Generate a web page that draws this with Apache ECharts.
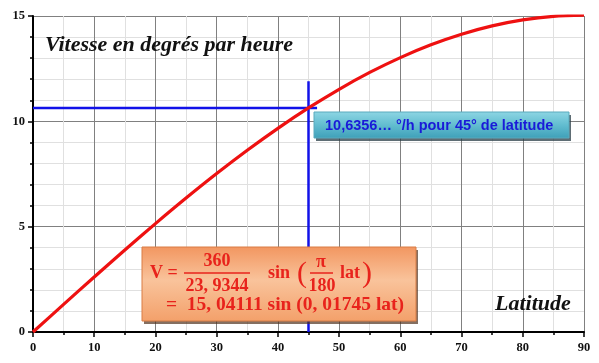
<!DOCTYPE html>
<html><head><meta charset="utf-8">
<script src="https://cdn.jsdelivr.net/npm/echarts@6/dist/echarts.min.js"></script>
<style>html,body{margin:0;padding:0;background:#fff}#c{width:599px;height:363px}</style>
</head><body><div id="c"></div>
<script>
var latitudes = [0,5,10,15,20,25,30,35,40,45,50,55,60,65,70,75,80,85,90];
var speeds = [0,1.311,2.612,3.893,5.144,6.357,7.521,8.627,9.668,10.636,11.522,12.321,13.026,13.632,14.134,14.529,14.813,14.984,15.041];
var hLineLat = [0, 46.4];
var hLineVal = 10.6356;
var vLineLat = 45;
var vLineVals = [0, 11.9];
var titleText = 'Vitesse en degrés par heure';
var xLabelText = 'Latitude';
var noteText = '10,6356… °/h pour 45° de latitude';

var chart = echarts.init(document.getElementById('c'), null, {renderer:'canvas'});
var red = '#e8231c';
var serifB = {fontFamily:'Liberation Serif', fontWeight:'bold', fill:red};
function t(x,y,s,size,align){return {type:'text',x:x,y:y,z:100,style:Object.assign({text:s,fontSize:size,textAlign:align||'left',textVerticalAlign:'middle'},serifB)};}
var blueGrad = new echarts.graphic.LinearGradient(0,0,0,1,[{offset:0,color:'#8ed6e4'},{offset:0.5,color:'#62bdd0'},{offset:1,color:'#3e9fb8'}]);
var orangeGrad = new echarts.graphic.LinearGradient(0,0,0,1,[{offset:0,color:'#f29660'},{offset:0.45,color:'#f9c39b'},{offset:1,color:'#f3a06a'}]);
var option = {
  animation:false,
  grid:{left:33,right:15,top:16,bottom:31},
  xAxis:{type:'value',min:0,max:90,interval:10,
    axisLine:{show:true,onZero:false,lineStyle:{color:'#000',width:2}},
    axisTick:{show:true,length:5,lineStyle:{color:'#000',width:1.5}},
    minorTick:{show:true,splitNumber:2,length:3,lineStyle:{color:'#000',width:1.5}},
    splitLine:{show:true,lineStyle:{color:'#808080',width:1}},
    minorSplitLine:{show:true,lineStyle:{color:'#e0e0e0',width:1}},
    axisLabel:{color:'#111',fontFamily:'Liberation Serif',fontWeight:'bold',fontSize:12.5,margin:9}},
  yAxis:{type:'value',min:0,max:15,interval:5,
    axisLine:{show:true,onZero:false,lineStyle:{color:'#000',width:2}},
    axisTick:{show:true,length:5,lineStyle:{color:'#000',width:1.5}},
    minorTick:{show:true,splitNumber:5,length:3,lineStyle:{color:'#000',width:1.5}},
    splitLine:{show:true,lineStyle:{color:'#808080',width:1}},
    minorSplitLine:{show:true,lineStyle:{color:'#e0e0e0',width:1}},
    axisLabel:{color:'#111',fontFamily:'Liberation Serif',fontWeight:'bold',fontSize:12.5,margin:8}},
  series:[
    {type:'line',data:hLineLat.map(function(x){return [x,hLineVal];}),symbol:'none',lineStyle:{color:'#1212e8',width:2.5},z:2},
    {type:'line',data:vLineVals.map(function(v){return [vLineLat,v];}),symbol:'none',lineStyle:{color:'#1212e8',width:2.5},z:2},
    {type:'line',data:latitudes.map(function(x,i){return [x,speeds[i]];}),symbol:'none',smooth:0.3,lineStyle:{color:'#ee1111',width:3.2},z:3}
  ],
  graphic:[
    {type:'text',x:45,y:45,z:100,style:{text:titleText,fontFamily:'Liberation Serif',fontStyle:'italic',fontWeight:'bold',fontSize:22,fill:'#111',textVerticalAlign:'middle'}},
    {type:'text',x:495,y:304,z:100,style:{text:xLabelText,fontFamily:'Liberation Serif',fontStyle:'italic',fontWeight:'bold',fontSize:22,fill:'#111',textVerticalAlign:'middle'}},
    {type:'rect',z:88,shape:{x:316,y:115,width:255,height:26},style:{fill:'rgba(40,60,70,0.75)'}},
    {type:'rect',z:90,shape:{x:314,y:112,width:255,height:26},style:{fill:blueGrad,stroke:'#5aaabd',lineWidth:1}},
    {type:'text',x:325,y:126,z:100,style:{text:noteText,fontFamily:'Liberation Sans',fontWeight:'bold',fontSize:14.5,fill:'#1a1ad8',textVerticalAlign:'middle'}},
    {type:'rect',z:88,shape:{x:144,y:250,width:274,height:74},style:{fill:'rgba(80,50,30,0.7)'}},
    {type:'rect',z:90,shape:{x:142,y:247,width:274,height:74},style:{fill:orangeGrad,stroke:'#d97d45',lineWidth:1}},
    t(150,273,'V =',18),
    t(217,261,'360',18,'center'),
    {type:'line',z:100,shape:{x1:184,y1:273,x2:250,y2:273},style:{stroke:red,lineWidth:1.5}},
    t(217,286,'23, 9344',18,'center'),
    t(268,273,'sin',18),
    {type:'text',x:297,y:274,z:100,style:Object.assign({text:'(',fontSize:30,textVerticalAlign:'middle'},serifB,{fontWeight:'normal'})},
    t(321,262,'π',18,'center'),
    {type:'line',z:100,shape:{x1:310,y1:273,x2:333,y2:273},style:{stroke:red,lineWidth:1.5}},
    t(322,286,'180',18,'center'),
    t(340,273,'lat',18),
    {type:'text',x:362,y:274,z:100,style:Object.assign({text:')',fontSize:30,textVerticalAlign:'middle'},serifB,{fontWeight:'normal'})},
    t(166,305,'=  15, 04111 sin (0, 01745 lat)',19.5)
  ]
};
chart.setOption(option);
</script></body></html>
